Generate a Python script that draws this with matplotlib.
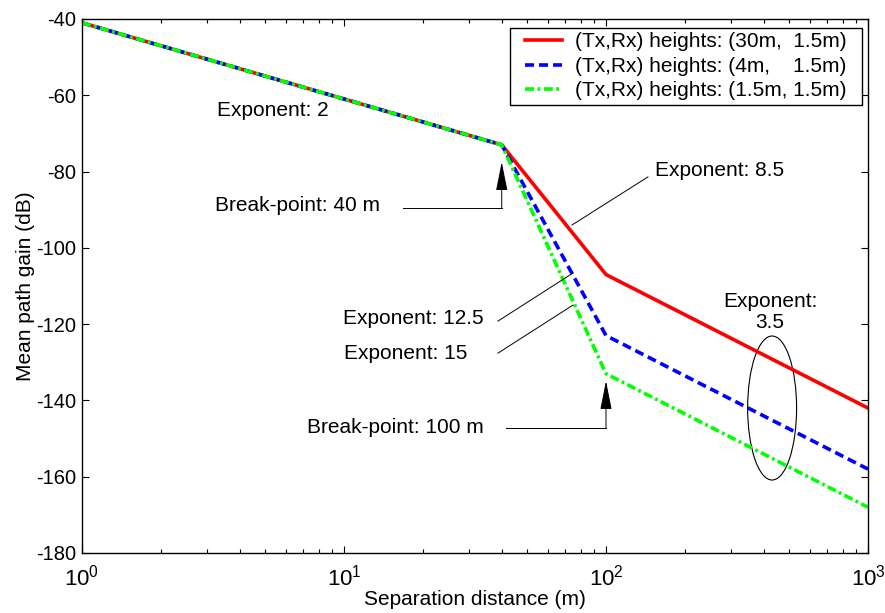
import matplotlib
matplotlib.use("Agg")
import matplotlib.pyplot as plt
from matplotlib.patches import Ellipse, Rectangle

plt.rcParams["font.family"] = ["Liberation Sans", "DejaVu Sans"]
plt.rcParams["mathtext.fontset"] = "custom"
plt.rcParams["mathtext.rm"] = "Liberation Sans"
plt.rcParams["axes.unicode_minus"] = False
plt.rcParams["lines.scale_dashes"] = False

# Mean path gain model: break points in distance (m) and gain (dB) at each
distancia = [1, 40, 100, 1000]
ganancia_30m = [-41, -73, -107, -142]
ganancia_4m = [-41, -73, -123, -158]
ganancia_15m = [-41, -73, -133, -168]
etiquetas = ["(Tx,Rx) heights: (30m,  1.5m)",
             "(Tx,Rx) heights: (4m,    1.5m)",
             "(Tx,Rx) heights: (1.5m, 1.5m)"]
xticks = [1, 10, 100, 1000]
yticks = [-180, -160, -140, -120, -100, -80, -60, -40]

FS = 15
fig = plt.figure(figsize=(8.85, 6.13), dpi=100)
ax = fig.add_axes([82 / 885, 60 / 613, 786 / 885, 534 / 613])

ax.plot(distancia, ganancia_30m, "-", color="#ff0000", lw=2.6, label=etiquetas[0])
ax.plot(distancia, ganancia_4m, color="#0000ff", lw=2.6, dashes=(6.5, 3.6), label=etiquetas[1])
ax.plot(distancia, ganancia_15m, color="#00ff00", lw=2.6, dashes=(6.5, 2.5, 2, 2.5), label=etiquetas[2])

ax.set_xscale("log")
ax.set_xlim(1, 1000)
ax.set_ylim(-180, -40)
ax.set_xticks(xticks)
ax.set_xticklabels([r"$10^{%d}$" % i for i in range(4)])
ax.set_yticks(yticks)
ax.tick_params(which="both", direction="in", top=True, right=True, width=0.8)
ax.tick_params(which="major", length=5)
ax.tick_params(which="minor", length=3)
ax.tick_params(axis="x", which="major", labelsize=FS + 1, pad=8)
ax.tick_params(axis="y", which="major", labelsize=FS - 0.5, pad=4)
for s in ax.spines.values():
    s.set_linewidth(1.0)
ax.set_xlabel("Separation distance (m)", fontsize=FS, labelpad=0)
ax.set_ylabel("Mean path gain (dB)", fontsize=FS, labelpad=1)

leg = ax.legend(loc="upper right", bbox_to_anchor=(0.978, 0.983), borderaxespad=0,
                fontsize=FS, frameon=False, handlelength=1.8, handletextpad=0.6,
                labelspacing=0.27, borderpad=0.2)

# anotaciones
kw = dict(fontsize=FS, va="center")
ax.text(5.36, -63.9, "Exponent: 2", ha="center", **kw)
ax.text(6.67, -89.0, "Break-point: 40 m", ha="center", **kw)
ax.text(272, -79.6, "Exponent: 8.5", ha="center", **kw)
ax.text(34.2, -118.4, "Exponent: 12.5", ha="right", **kw)
ax.text(17.2, -127.6, "Exponent: 15", ha="center", **kw)
ax.text(34.2, -147.0, "Break-point: 100 m", ha="right", **kw)
ax.text(423, -116.8, "Exponent:\n3.5", ha="center", linespacing=1.1, **kw)

fino = dict(color="k", lw=0.7)
ax.plot([74.2, 144.6], [-94.0, -81.4], **fino)
ax.plot([38.7, 74.8], [-119.2, -106.6], **fino)
ax.plot([38.7, 74.8], [-127.6, -115.0], **fino)
ax.plot([16.8, 40], [-89.6, -89.6], **fino)
ax.plot([41.5, 100], [-147.2, -147.2], **fino)

flecha = dict(arrowstyle="-|>,head_length=18,head_width=3.6", mutation_scale=1,
              color="k", lw=0.7, shrinkA=0, shrinkB=0)
ax.annotate("", xy=(40, -77.5), xytext=(40, -89.6), arrowprops=flecha)
ax.annotate("", xy=(100, -134.9), xytext=(100, -147.2), arrowprops=flecha)

ax.add_patch(Ellipse((0.878, 0.2715), 0.0623, 0.2697, transform=ax.transAxes,
                     fill=False, ec="k", lw=0.8))

# marco de la leyenda, con mas margen a los lados que arriba y abajo
fig.canvas.draw()
caja = leg.get_window_extent()
margen = 11
ax.add_artist(Rectangle((caja.x0 - margen, caja.y0), caja.width + 2 * margen, caja.height,
                        transform=None, fc="white", ec="k", lw=1.0, zorder=4.9))

fig.savefig("out.png", dpi=100)
